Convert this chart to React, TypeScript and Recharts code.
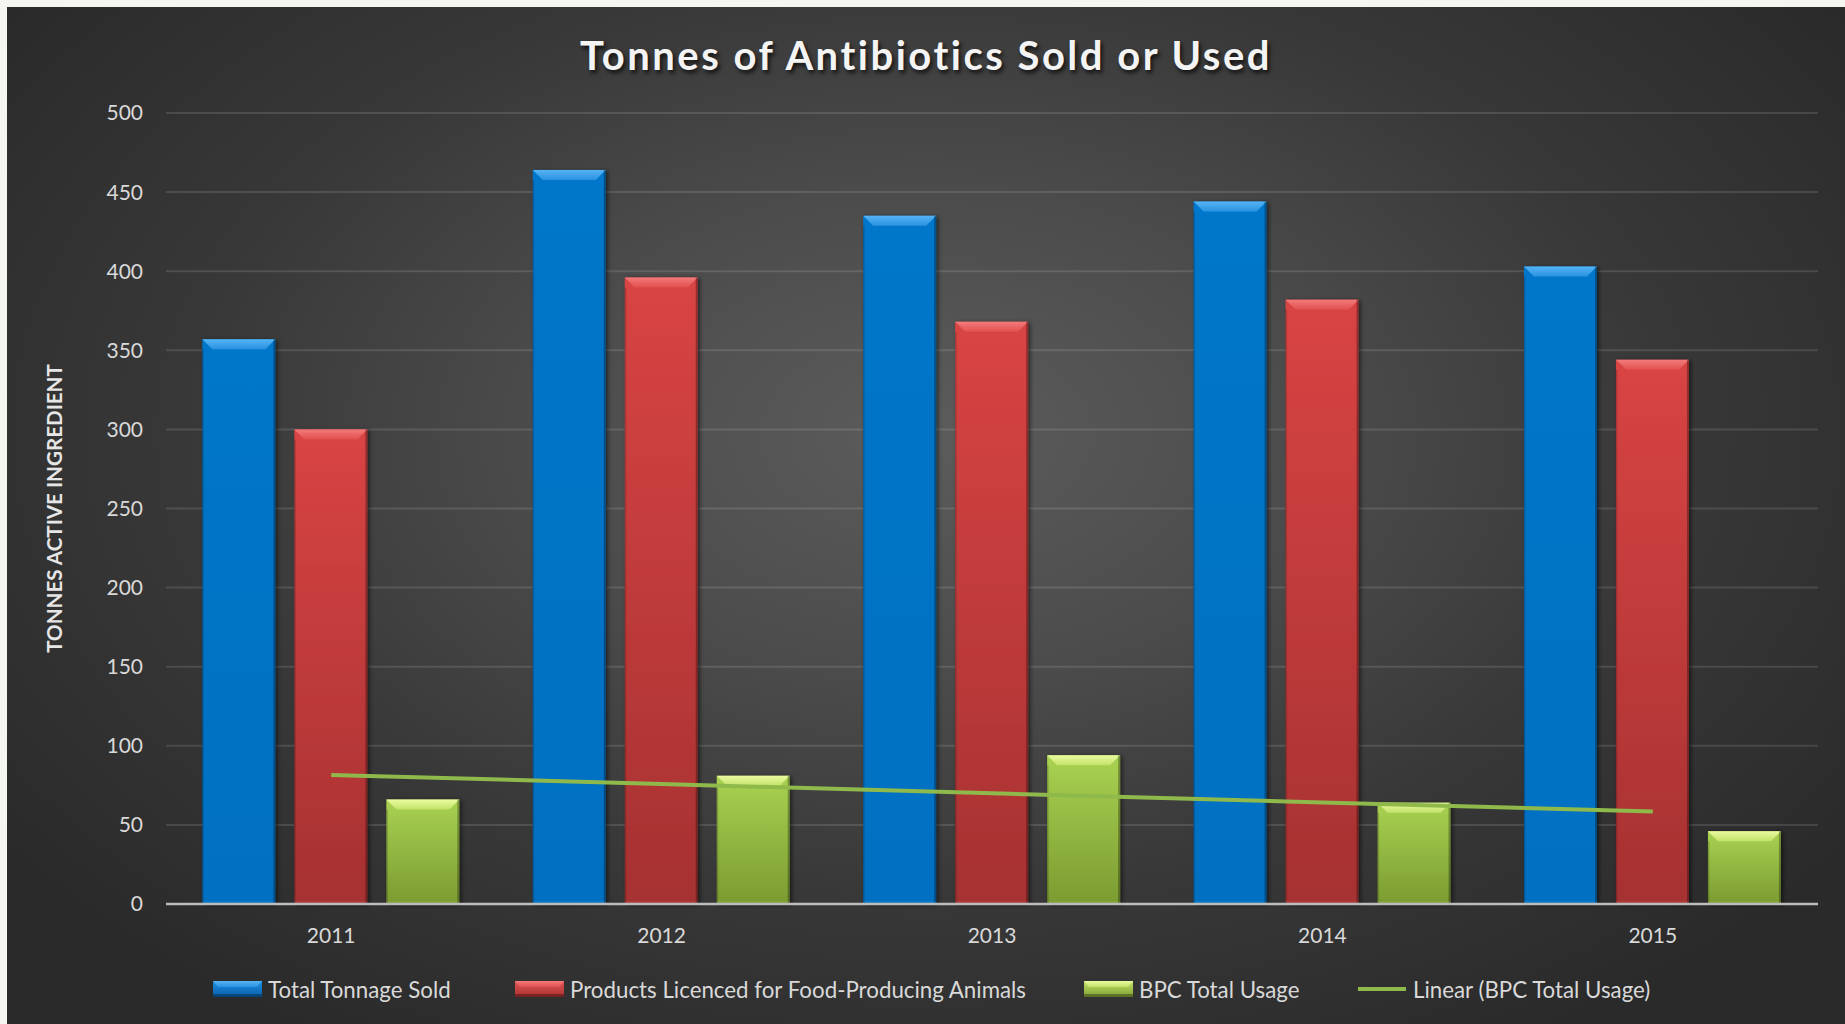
import React from 'react';
import {
  ComposedChart,
  Bar,
  Line,
  XAxis,
  YAxis,
  CartesianGrid,
} from 'recharts';

// ---- data ----
const years = ['2011', '2012', '2013', '2014', '2015'];
const totalTonnageSold = [357, 464, 435, 444, 403];
const foodProducingAnimals = [300, 396, 368, 382, 344];
const bpcTotalUsage = [66, 81, 94, 64, 46];
const bpcLinearTrend = [81.6, 75.8, 70.0, 64.2, 58.4];
const yTicks = [0, 50, 100, 150, 200, 250, 300, 350, 400, 450, 500];

const seriesKeys = ['total', 'food', 'bpc', 'trend'];
const seriesNames: Record<string, string> = {
  total: 'Total Tonnage Sold',
  food: 'Products Licenced for Food-Producing Animals',
  bpc: 'BPC Total Usage',
  trend: 'Linear (BPC Total Usage)',
};

const data = years.map((year, i) => ({
  year,
  total: totalTonnageSold[i],
  food: foodProducingAnimals[i],
  bpc: bpcTotalUsage[i],
  trend: bpcLinearTrend[i],
}));

const FONT = 'Lato, "Open Sans", sans-serif';

const barStyles: Record<string, { body: string; bevel: string; legendColor: string }> = {
  total: { body: 'gradBlue', bevel: 'bevelBlue', legendColor: '#0273c7' },
  food: { body: 'gradRed', bevel: 'bevelRed', legendColor: '#c83c3c' },
  bpc: { body: 'gradGreen', bevel: 'bevelGreen', legendColor: '#9cc447' },
};

// legend item left edges (layout only)
const legendLefts: Record<string, number> = { total: 206, food: 508, bpc: 1077, trend: 1350 };

const TREND_COLOR = '#8fba4b';

const makeBevelShape = (key: string) => (props: any) => {
  const { x, y, width, height } = props;
  if (height == null || height <= 0) return <g />;
  const st = barStyles[key];
  const b = Math.min(10, height / 2);
  return (
    <g filter="url(#barShadow)">
      <rect x={x} y={y} width={width} height={height} fill={`url(#${st.body})`} />
      <polygon
        points={`${x},${y} ${x + width},${y} ${x + width - b},${y + b} ${x + b},${y + b}`}
        fill={`url(#${st.bevel})`}
      />
      <rect x={x} y={y + b} width={1.5} height={height - b} fill="rgba(0,0,0,0.18)" />
      <rect x={x + width - 2} y={y} width={2} height={height} fill="rgba(0,0,0,0.3)" />
      <rect x={x} y={y + height - 3} width={width} height={3} fill="rgba(255,255,255,0.06)" />
    </g>
  );
};

const LegendIcon = ({ k }: { k: string }) => {
  if (k === 'trend') {
    return (
      <svg width={50} height={16} style={{ display: 'block' }}>
        <line x1={1} y1={8} x2={49} y2={8} stroke={TREND_COLOR} strokeWidth={4} />
      </svg>
    );
  }
  const st = barStyles[k];
  return (
    <svg width={49} height={16} style={{ display: 'block' }}>
      <rect x={0} y={0} width={49} height={16} fill={`url(#${st.body}L)`} />
      <polygon points="0,0 49,0 44,6 5,6" fill={`url(#${st.bevel}L)`} />
      <rect x={0} y={13} width={49} height={3} fill="rgba(0,0,0,0.3)" />
    </svg>
  );
};

const ChartLegend = () => (
  <div style={{ position: 'absolute', left: 0, top: 966, width: 1838, height: 32 }}>
    {seriesKeys.map((k) => (
      <div
        key={k}
        style={{
          position: 'absolute',
          left: legendLefts[k],
          top: 0,
          height: 32,
          display: 'flex',
          alignItems: 'center',
          fontFamily: FONT,
          fontSize: 22.3,
          color: '#d9d9d9',
        }}
      >
        <LegendIcon k={k} />
        <span style={{ marginLeft: 6, whiteSpace: 'nowrap' }}>{seriesNames[k]}</span>
      </div>
    ))}
  </div>
);

export default function App() {
  return (
    <div
      style={{
        position: 'absolute',
        left: 0,
        top: 0,
        width: 1845,
        height: 1024,
        background: '#f5f6ef',
        overflow: 'hidden',
      }}
    >
      <svg width={0} height={0} style={{ position: 'absolute' }}>
        <defs>
          <linearGradient id="gradBlueL" x1="0" y1="0" x2="0" y2="1">
            <stop offset="0%" stopColor="#1d8fe6" />
            <stop offset="100%" stopColor="#0b5fa8" />
          </linearGradient>
          <linearGradient id="gradRedL" x1="0" y1="0" x2="0" y2="1">
            <stop offset="0%" stopColor="#e45656" />
            <stop offset="100%" stopColor="#a83030" />
          </linearGradient>
          <linearGradient id="gradGreenL" x1="0" y1="0" x2="0" y2="1">
            <stop offset="0%" stopColor="#c6e66c" />
            <stop offset="100%" stopColor="#7d9d32" />
          </linearGradient>
          <linearGradient id="bevelBlueL" x1="0" y1="0" x2="0" y2="1">
            <stop offset="0%" stopColor="#55b4f5" />
            <stop offset="100%" stopColor="#2a92e0" />
          </linearGradient>
          <linearGradient id="bevelRedL" x1="0" y1="0" x2="0" y2="1">
            <stop offset="0%" stopColor="#f47a7a" />
            <stop offset="100%" stopColor="#e15050" />
          </linearGradient>
          <linearGradient id="bevelGreenL" x1="0" y1="0" x2="0" y2="1">
            <stop offset="0%" stopColor="#eafba0" />
            <stop offset="100%" stopColor="#c2e268" />
          </linearGradient>
        </defs>
      </svg>
      <div
        style={{
          position: 'absolute',
          left: 7,
          top: 7,
          width: 1838,
          height: 1017,
          background:
            'radial-gradient(ellipse 62% 70% at 50% 42%, #5c5c5c 0%, #4b4b4b 35%, #383838 65%, #2a2a2a 100%)',
        }}
      >
        <div
          style={{
            position: 'absolute',
            left: 0,
            top: 21,
            width: 1838,
            textAlign: 'center',
            fontFamily: FONT,
            fontWeight: 700,
            fontSize: 40,
            letterSpacing: 2.5,
            color: '#f4f4f4',
            textShadow: '2px 3px 4px rgba(0,0,0,0.75)',
            lineHeight: '54px',
          }}
        >
          Tonnes of Antibiotics Sold or Used
        </div>
        <ComposedChart
          width={1838}
          height={1017}
          data={data}
          margin={{ top: 106, right: 27, bottom: 90, left: 0 }}
          barCategoryGap="11%"
          barGap={19}
        >
          <defs>
            <linearGradient id="gradBlue" x1="0" y1="0" x2="0" y2="1">
              <stop offset="0%" stopColor="#0477ca" />
              <stop offset="100%" stopColor="#0270c2" />
            </linearGradient>
            <linearGradient id="gradRed" x1="0" y1="0" x2="0" y2="1">
              <stop offset="0%" stopColor="#d94444" />
              <stop offset="100%" stopColor="#a63131" />
            </linearGradient>
            <linearGradient id="gradGreen" x1="0" y1="0" x2="0" y2="1">
              <stop offset="0%" stopColor="#a9d252" />
              <stop offset="100%" stopColor="#7b9b31" />
            </linearGradient>
            <linearGradient id="bevelBlue" x1="0" y1="0" x2="0" y2="1">
              <stop offset="0%" stopColor="#55b4f5" />
              <stop offset="100%" stopColor="#2a92e0" />
            </linearGradient>
            <linearGradient id="bevelRed" x1="0" y1="0" x2="0" y2="1">
              <stop offset="0%" stopColor="#f47a7a" />
              <stop offset="100%" stopColor="#e15050" />
            </linearGradient>
            <linearGradient id="bevelGreen" x1="0" y1="0" x2="0" y2="1">
              <stop offset="0%" stopColor="#eafba0" />
              <stop offset="100%" stopColor="#c2e268" />
            </linearGradient>
            <filter id="barShadow" x="-20%" y="-5%" width="140%" height="110%">
              <feDropShadow dx="2" dy="1" stdDeviation="2" floodColor="#000" floodOpacity="0.55" />
            </filter>
          </defs>
          <CartesianGrid
            vertical={false}
            stroke="#ffffff"
            strokeOpacity={0.12}
            strokeWidth={2}
          />
          <XAxis
            dataKey="year"
            axisLine={{ stroke: '#bdbdbd', strokeWidth: 2.5 }}
            tickLine={false}
            tickSize={0}
            tickMargin={24}
            tick={{ fill: '#d9d9d9', fontSize: 21, fontFamily: FONT }}
          />
          <YAxis
            width={159}
            domain={[0, 500]}
            ticks={yTicks}
            interval={0}
            axisLine={false}
            tickLine={false}
            tickSize={0}
            tickMargin={23}
            tick={{ fill: '#d9d9d9', fontSize: 21, fontFamily: FONT }}
            label={{
              value: 'TONNES ACTIVE INGREDIENT',
              angle: -90,
              position: 'insideLeft',
              offset: 48,
              style: {
                textAnchor: 'middle',
                fill: '#e6e6e6',
                fontSize: 20.6,
                fontWeight: 700,
                fontFamily: FONT,
              },
            }}
          />
          <Bar
            dataKey="total"
            name={seriesNames.total}
            fill={barStyles.total.legendColor}
            shape={makeBevelShape('total')}
            isAnimationActive={false}
          />
          <Bar
            dataKey="food"
            name={seriesNames.food}
            fill={barStyles.food.legendColor}
            shape={makeBevelShape('food')}
            isAnimationActive={false}
          />
          <Bar
            dataKey="bpc"
            name={seriesNames.bpc}
            fill={barStyles.bpc.legendColor}
            shape={makeBevelShape('bpc')}
            isAnimationActive={false}
          />
          <Line
            dataKey="trend"
            name={seriesNames.trend}
            type="linear"
            stroke={TREND_COLOR}
            strokeWidth={4}
            dot={false}
            activeDot={false}
            isAnimationActive={false}
          />
        </ComposedChart>
        <ChartLegend />
      </div>
    </div>
  );
}
